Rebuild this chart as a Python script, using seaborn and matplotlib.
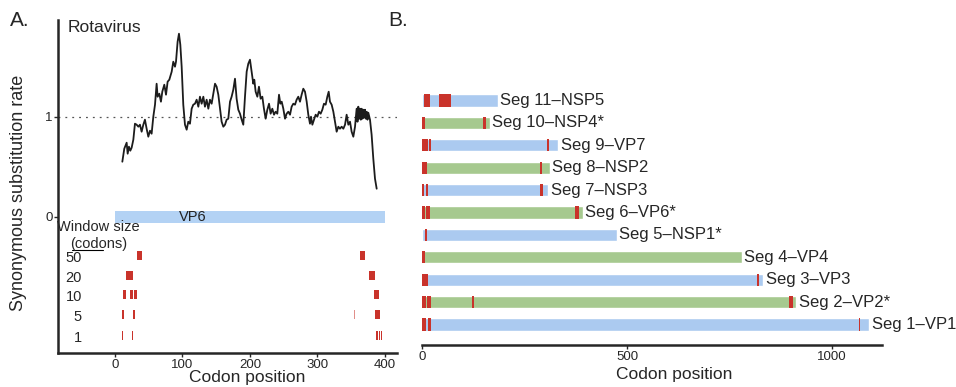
import matplotlib
matplotlib.use("Agg")
import matplotlib.pyplot as plt
import pandas as pd
import seaborn as sns

# ---- Panel A: rotavirus VP6, sliding-window synonymous substitution rate ----
codon_pos = [10.9, 13.8, 17.3, 18.8, 20.7, 22.7, 24.7, 27.2, 29.6, 32.1, 34.6, 37.0,
             39.5, 42.0, 44.4, 46.9, 49.4, 51.9, 54.3, 56.8, 59.3, 61.7, 63.2, 65.7,
             68.1, 70.1, 73.1, 75.6, 78.0, 80.5, 84.0, 86.4, 88.9, 90.4, 92.8, 94.8,
             96.8, 98.8, 101.2, 103.7, 106.2, 108.6, 111.1, 113.6, 116.0, 118.5, 121.0,
             123.5, 125.9, 128.4, 130.9, 133.3, 135.8, 138.3, 140.7, 143.2, 145.7, 148.2,
             150.6, 153.1, 155.6, 158.0, 160.5, 163.0, 165.4, 167.9, 170.4, 172.8, 175.3,
             177.8, 180.2, 182.7, 185.2, 187.7, 190.1, 192.6, 195.1, 197.5, 200.0, 202.5,
             204.9, 206.4, 208.4, 210.9, 213.3, 215.8, 218.3, 220.7, 223.2, 225.7, 228.2,
             230.6, 233.1, 235.6, 238.0, 240.5, 243.0, 245.0, 247.0, 249.4, 251.9, 254.3,
             256.8, 259.3, 261.7, 264.2, 266.7, 269.1, 271.6, 274.1, 276.5, 279.0, 281.5,
             284.0, 286.4, 288.9, 290.4, 292.4, 294.8, 297.3, 299.8, 302.2, 304.7, 307.2,
             309.6, 312.1, 314.6, 316.6, 318.5, 321.0, 323.5, 325.9, 328.4, 330.9, 333.3,
             335.8, 338.3, 340.8, 343.2, 345.7, 348.2, 350.6, 353.1, 355.6, 358.0, 359.3,
             360.5, 361.8, 363.0, 364.2, 365.4, 366.7, 367.9, 369.1, 370.4, 371.6, 372.9,
             374.1, 375.3, 377.8, 380.2, 382.7, 385.2, 387.7]
syn_rate = [0.55, 0.68, 0.74, 0.63, 0.70, 0.66, 0.69, 0.77, 0.93, 0.92, 0.90, 0.92,
            0.85, 0.92, 0.97, 0.88, 0.80, 0.86, 0.83, 1.00, 1.12, 1.33, 1.20, 1.23,
            1.15, 1.25, 1.32, 1.22, 1.35, 1.37, 1.45, 1.55, 1.50, 1.55, 1.75, 1.83,
            1.72, 1.50, 1.12, 0.92, 0.87, 0.95, 0.93, 1.08, 1.12, 1.13, 1.17,
            1.10, 1.20, 1.13, 1.20, 1.10, 1.17, 1.08, 1.17, 1.13, 1.23, 1.33,
            1.30, 1.22, 1.08, 0.95, 0.90, 0.92, 0.97, 0.98, 1.15, 1.20, 1.27,
            1.38, 1.18, 1.07, 1.03, 0.97, 0.92, 1.20, 1.45, 1.53, 1.57, 1.45,
            1.33, 1.37, 1.25, 1.20, 1.30, 1.18, 1.20, 1.08, 0.98, 1.07, 1.13,
            1.03, 1.08, 1.02, 1.05, 1.03, 1.22, 1.13, 1.15, 1.08, 0.98, 1.03,
            1.05, 1.02, 1.10, 1.13, 1.12, 1.17, 1.20, 1.15, 1.22, 1.28, 1.25,
            1.15, 1.02, 0.93, 1.00, 0.92, 0.97, 1.02, 1.00, 1.05, 1.03, 1.07,
            1.13, 1.12, 1.20, 1.25, 1.15, 1.12, 1.05, 0.95, 0.85, 0.90, 0.88,
            0.90, 0.88, 0.92, 1.02, 0.92, 0.95, 0.85, 0.80, 0.90, 1.08, 0.95,
            1.10, 0.98, 1.08, 0.97, 1.08, 0.98, 1.07, 0.99, 1.07, 0.98, 1.05,
            0.97, 1.04, 0.97, 0.82, 0.58, 0.38, 0.28]

gene_start, gene_end = 0, 400

# windows of significantly low synonymous rate, per window size (codons)
window_sizes = ["50", "20", "10", "5", "1"]
window_levels = [-0.39, -0.59, -0.78, -0.98, -1.19]
win_row = [0, 0, 1, 1, 2, 2, 2, 2, 3, 3, 3, 3, 4, 4, 4, 4, 4, 4]
win_start = [32, 363, 17, 377, 12, 22, 28, 383, 10, 26, 354, 385,
             10, 25.5, 386, 388.5, 391, 393.5]
win_end = [40, 370, 26, 385, 17, 26, 32, 391, 13, 29, 356, 393,
           11.5, 27, 387.5, 390, 392.5, 395]
win_faint = [False] * 10 + [True] + [False] * 7

# ---- Panel B: all eleven genome segments ----
seg_labels = ["Seg 11–NSP5", "Seg 10–NSP4*", "Seg 9–VP7", "Seg 8–NSP2",
              "Seg 7–NSP3", "Seg 6–VP6*", "Seg 5–NSP1*", "Seg 4–VP4",
              "Seg 3–VP3", "Seg 2–VP2*", "Seg 1–VP1"]
seg_length = [184, 165, 332, 311, 308, 391, 474, 780, 832, 912, 1090]
seg_kind = ["blue", "green", "blue", "green", "blue", "green",
            "blue", "green", "blue", "green", "blue"]

mark_seg = [0, 0, 1, 1, 2, 2, 2, 3, 3, 4, 4, 4, 5, 5, 5, 6, 7, 8, 8,
            9, 9, 9, 9, 10, 10, 10]
mark_start = [5, 41, 0, 149, 0, 17, 305, 0, 287, 0, 9, 287, 0, 9, 373, 7, 0, 0, 816,
              0, 11, 121, 895, 0, 13, 1065]
mark_end = [19, 70, 8, 155, 14, 22, 309, 12, 293, 5, 15, 295, 8, 19, 382, 11, 8, 13, 822,
            9, 22, 127, 905, 9, 22, 1069]

BLUE = "#abcaf0"
GREEN = "#a6c98f"
RED = "#c9332b"

sns.set_style("white")
plt.rcParams["font.family"] = ["Liberation Sans", "DejaVu Sans"]
plt.rcParams["axes.linewidth"] = 1.8

W, H = 956, 387
fig = plt.figure(figsize=(W / 100, H / 100), dpi=100)

# ------------------------------ Panel A ------------------------------
axA = fig.add_axes([58 / W, 1 - 353 / H, (397 - 58) / W, (353 - 20) / H])
sns.lineplot(x=codon_pos, y=syn_rate, ax=axA, color="#1c1c1c", linewidth=1.3,
             sort=False, estimator=None)
axA.axhline(1, color="#555555", linewidth=0.9, linestyle=(0, (1.5, 4)), zorder=0)

axA.barh(0, gene_end - gene_start, left=gene_start, height=0.12, color="#b3d2f4",
         edgecolor="none")
axA.text(115, 0, "VP6", ha="center", va="center", fontsize=10.5, color="#222222")

for r, s, e, faint in zip(win_row, win_start, win_end, win_faint):
    axA.barh(window_levels[r], e - s, left=s, height=0.085, color=RED,
             alpha=0.55 if faint else 1.0, edgecolor="none")
for lab, lv in zip(window_sizes, window_levels):
    axA.text(-49, lv - 0.02, lab, ha="right", va="center", fontsize=10.5)
axA.text(-24, -0.10, "Window size", ha="center", va="center", fontsize=10.5)
axA.text(-24, -0.27, "(codons)", ha="center", va="center", fontsize=10.5)
axA.plot([-64, -17], [-0.33, -0.33], color="black", linewidth=0.8)

axA.text(0.027, 0.978, "Rotavirus", transform=axA.transAxes, ha="left", va="center",
         fontsize=12.5)

axA.set_xlim(-84.4, 417.8)
axA.set_ylim(-1.363, 1.967)
axA.set_xticks([0, 100, 200, 300, 400])
axA.set_yticks([0, 1])
axA.tick_params(axis="both", length=3, width=1, labelsize=9.5, pad=1, direction="out",
                bottom=True, left=True)
axA.set_xlabel("Codon position", fontsize=12.5)
axA.xaxis.set_label_coords(0.557, -0.05)
axA.set_ylabel("Synonymous substitution rate", fontsize=13)
axA.yaxis.set_label_coords(-0.09, 0.48)
sns.despine(ax=axA)

# ------------------------------ Panel B ------------------------------
axB = fig.add_axes([410 / W, 1 - 345 / H, (900 - 410) / W, (345 - 88) / H])
segs = pd.DataFrame({"segment": seg_labels, "length": seg_length, "kind": seg_kind})
sns.barplot(data=segs, x="length", y="segment", hue="kind",
            palette={"blue": BLUE, "green": GREEN}, orient="h", width=0.55,
            dodge=False, saturation=1, legend=False, ax=axB)
for i, s, e in zip(mark_seg, mark_start, mark_end):
    axB.barh(i, e - s, left=s, height=0.55, color=RED, edgecolor="none", zorder=3)
for i, (lab, ln) in enumerate(zip(seg_labels, seg_length)):
    axB.annotate(lab, xy=(ln, i), xytext=(1.8, 0), textcoords="offset points",
                 ha="left", va="center", fontsize=12, annotation_clip=False)

axB.set_xlim(-29.8, 1165.4)
axB.set_ylim(10.915, -0.558)
axB.set_xticks([0, 500, 1000])
axB.set_yticks([])
axB.set_ylabel("")
axB.tick_params(axis="x", length=3, width=1, labelsize=9.5, pad=1, bottom=True)
axB.set_xlabel("Codon position", fontsize=12.5)
axB.xaxis.set_label_coords(0.54, -0.085)
sns.despine(ax=axB, left=True)
axB.spines["bottom"].set_bounds(0, 1122)

fig.text(10 / W, 1 - 20 / H, "A.", fontsize=15, ha="left", va="center")
fig.text(388 / W, 1 - 20 / H, "B.", fontsize=15, ha="left", va="center")

fig.savefig("out.png", dpi=100)
